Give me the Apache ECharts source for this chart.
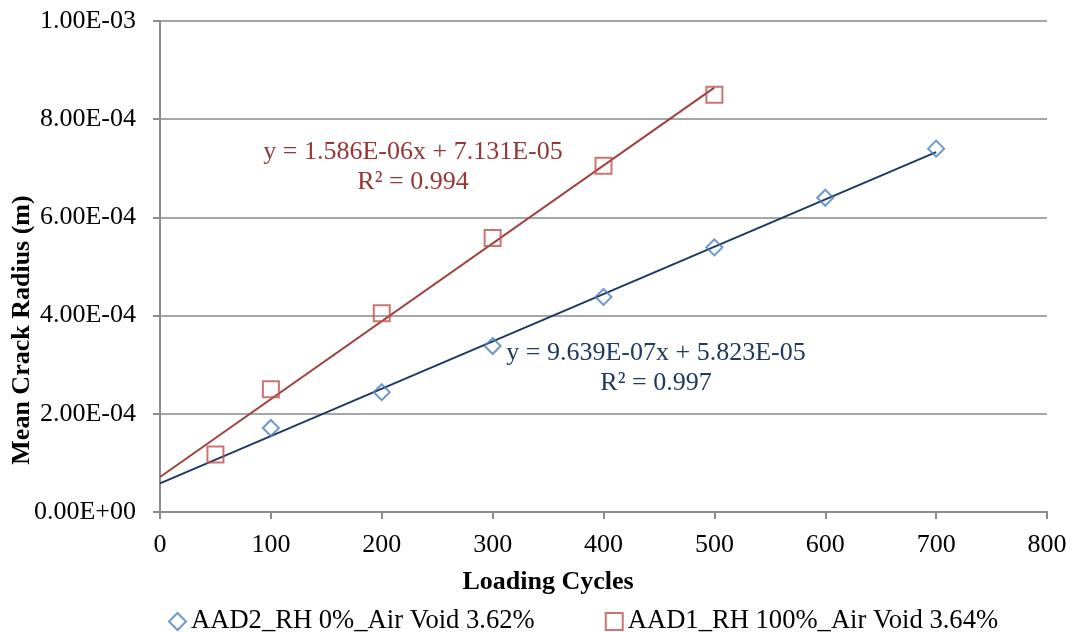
<!DOCTYPE html>
<html>
<head>
<meta charset="utf-8">
<script src="https://cdn.jsdelivr.net/npm/echarts@6/dist/echarts.min.js"></script>
<style>
  html, body { margin: 0; padding: 0; background: #fff; }
  #chart { width: 1071px; height: 632px; }
</style>
</head>
<body>
<div id="chart"></div>
<script>
// Measured crack radius (m) versus loading cycles
const aad2Cycles = [100, 200, 300, 400, 500, 600, 700];
const aad2Radius = [1.71e-4, 2.44e-4, 3.38e-4, 4.38e-4, 5.39e-4, 6.40e-4, 7.40e-4];

const aad1Cycles = [50, 100, 200, 300, 400, 500];
const aad1Radius = [1.17e-4, 2.50e-4, 4.05e-4, 5.58e-4, 7.05e-4, 8.50e-4];

// Linear trendlines: [slope, intercept, R², last cycle]
const aad2Fit = [9.639e-7, 5.823e-5, 0.997, 700];
const aad1Fit = [1.586e-6, 7.131e-5, 0.994, 500];

const seriesNames = ['AAD2_RH 0%_Air Void 3.62%', 'AAD1_RH 100%_Air Void 3.64%'];
const xTicks = [0, 800, 100];          // min, max, interval
const yTicks = [0, 1.0e-3, 2.0e-4];    // min, max, interval

const FONT = '"Liberation Serif", "Times New Roman", serif';

function sci(v, digits) {
  const d = digits == null ? 2 : digits;
  if (v === 0) return (0).toFixed(d) + 'E+00';
  let e = Math.floor(Math.log10(Math.abs(v)) + 1e-9);
  let m = v / Math.pow(10, e);
  if (Math.abs(m) >= 10 - 0.5 * Math.pow(10, -d)) { m /= 10; e += 1; }
  const sign = e < 0 ? '-' : '+';
  const ee = String(Math.abs(e)).padStart(2, '0');
  return m.toFixed(d) + 'E' + sign + ee;
}

function fitLine(fit) {
  return [[0, fit[1]], [fit[3], fit[0] * fit[3] + fit[1]]];
}

function eqText(fit) {
  return 'y = ' + sci(fit[0], 3) + 'x + ' + sci(fit[1], 3) + '\nR² = ' + fit[2].toFixed(3);
}

const chart = echarts.init(document.getElementById('chart'), null, { renderer: 'canvas' });

chart.setOption({
  animation: false,
  backgroundColor: '#ffffff',
  textStyle: { fontFamily: FONT },
  grid: { left: 160, right: 24, top: 21, bottom: 120, containLabel: false },
  legend: {
    data: seriesNames,
    left: 163,
    top: 603,
    itemWidth: 17,
    itemHeight: 17,
    itemGap: 70,
    textStyle: { fontFamily: FONT, fontSize: 26.6, color: '#000' }
  },
  xAxis: {
    type: 'value',
    min: xTicks[0],
    max: xTicks[1],
    interval: xTicks[2],
    axisLine: { show: true, lineStyle: { color: '#8c8c8c', width: 2 } },
    axisTick: { show: true, length: 7, lineStyle: { color: '#8c8c8c', width: 2 } },
    axisLabel: { fontFamily: FONT, fontSize: 26, color: '#000', margin: 20 },
    splitLine: { show: false }
  },
  yAxis: {
    type: 'value',
    min: yTicks[0],
    max: yTicks[1],
    interval: yTicks[2],
    axisLine: { show: true, lineStyle: { color: '#8c8c8c', width: 2 } },
    axisTick: { show: true, length: 7, lineStyle: { color: '#8c8c8c', width: 2 } },
    axisLabel: { fontFamily: FONT, fontSize: 26, color: '#000', margin: 24, formatter: (v) => sci(v, 2) },
    splitLine: { show: true, lineStyle: { color: '#a6a6a6', width: 2 } }
  },
  graphic: [
    {
      type: 'text', x: 548, y: 582,
      style: { text: 'Loading Cycles', font: 'bold 26px ' + FONT, fill: '#000', textAlign: 'center', textVerticalAlign: 'middle' }
    },
    {
      type: 'text', x: 22, y: 330, rotation: Math.PI / 2,
      style: { text: 'Mean Crack Radius (m)', font: 'bold 26px ' + FONT, fill: '#000', textAlign: 'center', textVerticalAlign: 'middle' }
    },
    {
      type: 'text', x: 413, y: 167,
      style: { text: eqText(aad1Fit), font: '26px ' + FONT, fill: '#953735', textAlign: 'center', textVerticalAlign: 'middle', lineHeight: 30 }
    },
    {
      type: 'text', x: 656, y: 368,
      style: { text: eqText(aad2Fit), font: '26px ' + FONT, fill: '#1f3864', textAlign: 'center', textVerticalAlign: 'middle', lineHeight: 30 }
    }
  ],
  series: [
    {
      name: 'AAD2 trend',
      type: 'line',
      data: fitLine(aad2Fit),
      symbol: 'none',
      silent: true,
      lineStyle: { color: '#1f3864', width: 2 },
      z: 2
    },
    {
      name: 'AAD1 trend',
      type: 'line',
      data: fitLine(aad1Fit),
      symbol: 'none',
      silent: true,
      lineStyle: { color: '#a0413e', width: 2 },
      z: 2
    },
    {
      name: seriesNames[0],
      type: 'scatter',
      data: aad2Cycles.map((c, i) => [c, aad2Radius[i]]),
      symbol: 'diamond',
      symbolSize: 16,
      itemStyle: { color: 'rgba(255,255,255,0)', borderColor: '#4a7ebb', borderWidth: 2 },
      z: 3
    },
    {
      name: seriesNames[1],
      type: 'scatter',
      data: aad1Cycles.map((c, i) => [c, aad1Radius[i]]),
      symbol: 'rect',
      symbolSize: 16,
      itemStyle: { color: 'rgba(255,255,255,0)', borderColor: '#c0504d', borderWidth: 2 },
      z: 3
    }
  ]
});
</script>
</body>
</html>
